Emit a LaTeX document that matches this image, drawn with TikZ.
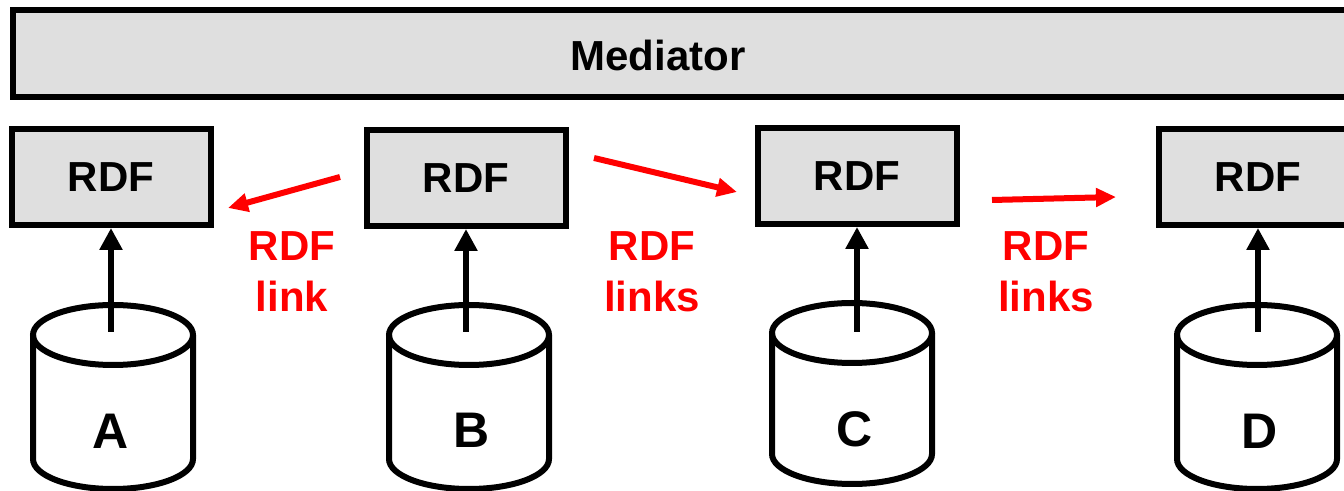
\documentclass[tikz,border=0pt]{standalone}
\usepackage{fontspec}
\setmainfont{Liberation Sans}
\usepackage{xcolor}
\usepackage{tikz}
\usetikzlibrary{arrows.meta}

\begin{document}
\begin{tikzpicture}[x=0.5pt, y=-0.5pt,
        rdfbox/.style = {draw, line width=3pt, fill=gray!25, minimum width=99.5pt,
            minimum height=48pt, inner sep=0pt, font=\bfseries\fontsize{21}{25.5}\selectfont},
        linklabel/.style = {red, align=center, inner sep=0pt, font=\bfseries\fontsize{21}{25.5}\selectfont},
        dbletter/.style = {inner sep=0pt, font=\bfseries\fontsize{25}{30}\selectfont},
        dbline/.style = {line width=3pt},
        feed/.style = {line width=3pt, -{Triangle[width=11pt, length=11pt]}},
        rdflink/.style = {red, line width=3pt, -{Triangle[width=9pt, length=10pt]}}]
        \useasboundingbox (0, 0) rectangle (1344, 491);
        \clip (0, 0) rectangle (1344, 491);

        % mediator
        \draw [line width=3pt, fill=gray!25] (13, 10) rectangle (1380, 97);
        \node [inner sep=0pt, font=\bfseries\fontsize{21}{25.5}\selectfont] (mediator) at (658, 55) {Mediator};

        % wrappers
        \node [rdfbox] (rdfA) at (111, 177) {RDF};
        \node [rdfbox] (rdfB) at (466, 178) {RDF};
        \node [rdfbox] (rdfC) at (857, 176) {RDF};
        \node [rdfbox] (rdfD) at (1258, 177) {RDF};

        % sources
        \draw [dbline] (33, 335) -- (33, 459) arc (180:360:40pt and 15pt) -- (193, 335);
        \draw [dbline] (113, 335) ellipse (40pt and 15pt);
        \draw [dbline] (389, 335) -- (389, 459) arc (180:360:40pt and 15pt) -- (549, 335);
        \draw [dbline] (469, 335) ellipse (40pt and 15pt);
        \draw [dbline] (772, 333) -- (772, 454) arc (180:360:40pt and 15pt) -- (932, 333);
        \draw [dbline] (852, 333) ellipse (40pt and 15pt);
        \draw [dbline] (1177, 335) -- (1177, 459) arc (180:360:40pt and 15pt) -- (1337, 335);
        \draw [dbline] (1257, 335) ellipse (40pt and 15pt);

        \node [dbletter] (dbA) at (111, 431) {A};
        \node [dbletter] (dbB) at (472, 430) {B};
        \node [dbletter] (dbC) at (855, 429) {C};
        \node [dbletter] (dbD) at (1260, 431) {D};

        \coordinate (topA) at (111, 332);
        \coordinate (topB) at (466, 332);
        \coordinate (topC) at (857, 332);
        \coordinate (topD) at (1258, 332);
        \draw [feed] (topA) -- (rdfA.south);
        \draw [feed] (topB) -- (rdfB.south);
        \draw [feed] (topC) -- (rdfC.south);
        \draw [feed] (topD) -- (rdfD.south);

        % links between wrappers
        \coordinate (ba1) at (340, 177);
        \coordinate (ba2) at (228, 208);
        \coordinate (bc1) at (594, 158);
        \coordinate (bc2) at (737, 192);
        \coordinate (cd1) at (992, 200);
        \coordinate (cd2) at (1116, 197);
        \draw [rdflink] (ba1) -- (ba2);
        \draw [rdflink] (bc1) -- (bc2);
        \draw [rdflink] (cd1) -- (cd2);

        \node [linklabel] (labAB) at (292, 272) {RDF\\link};
        \node [linklabel] (labBC) at (652, 272) {RDF\\links};
        \node [linklabel] (labCD) at (1046, 272) {RDF\\links};
\end{tikzpicture}
\end{document}
